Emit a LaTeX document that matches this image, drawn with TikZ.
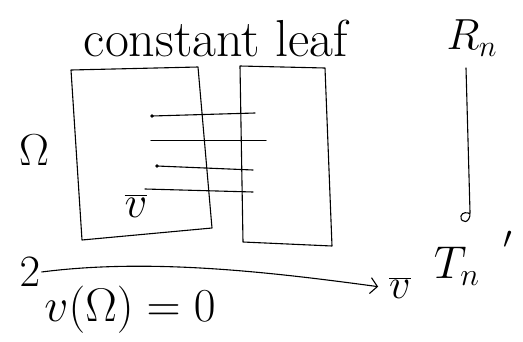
\documentclass[tikz,border=0pt]{standalone}
\usepackage{graphicx}
\usetikzlibrary{positioning, arrows.meta, calc}

\newcommand{\hand}[2]{\scalebox{#1}{$#2$}}

\begin{document}
\begin{tikzpicture}[
    x=1pt, y=-1pt,
    sheet/.style={draw, line width=1.1pt, line join=round},
    fibre/.style={line width=1.1pt, line cap=round},
    arrow/.style={-{Straight Barb[length=7pt, width=16pt]}, line width=1.1pt},
    label/.style={inner sep=1pt, font=\fontsize{24}{28}\selectfont},
  ]
  \useasboundingbox (0,0) rectangle (523,341);

  % Title
  \node[label, font=\fontsize{52}{60}\selectfont] (title) at (216,38) {constant leaf};

  % Leaves
  \draw[sheet] (71,70) -- (198,67) -- (212,228) -- (82,240) -- cycle;
  \draw[sheet] (240,66) -- (325,68) -- (332,246) -- (243,242) -- cycle;

  % Fibres across the leaves
  \foreach \xa/\ya/\xb/\yb in {152/116/255/113, 151/140.5/266/140.5, 157/166/253/170, 145/189/253/192}
    \draw[fibre] (\xa,\ya) -- (\xb,\yb);
  \fill (152,116) circle (1.8pt);
  \fill (157,166) circle (1.8pt);

  \node[label] (Om) at (34,150) {\hand{1.8}{\Omega}};
  \node[label] (vin) at (136,206) {\hand{1.8}{\overline{v}}};

  % Right column
  \node[label] (Rn) at (472,38) {\hand{1.75}{R_n}};
  \node[label] (Tn) at (457,266) {\hand{1.85}{T_n}};
  \node[label] (tick) at (508,248) {\hand{1.8}{'}};
  \coordinate (top) at (466,68);
  \coordinate (hook) at (470,212);
  \draw[fibre] (top) -- (hook) .. controls (471,224) and (460,224) .. (461,216)
    .. controls (462,212) and (468,212) .. (470,214);

  % Bottom arrow
  \node[label] (two) at (30,272) {\hand{1.8}{2}};
  \node[label] (vend) at (400,288) {\hand{1.7}{\overline{v}}};
  \node[label] (eq) at (130,310) {\hand{1.9}{v(\Omega) = 0}};
  \draw[arrow, shorten >=10pt] (two.east) .. controls (150,258) and (270,272) .. (vend.west);

\end{tikzpicture}
\end{document}
